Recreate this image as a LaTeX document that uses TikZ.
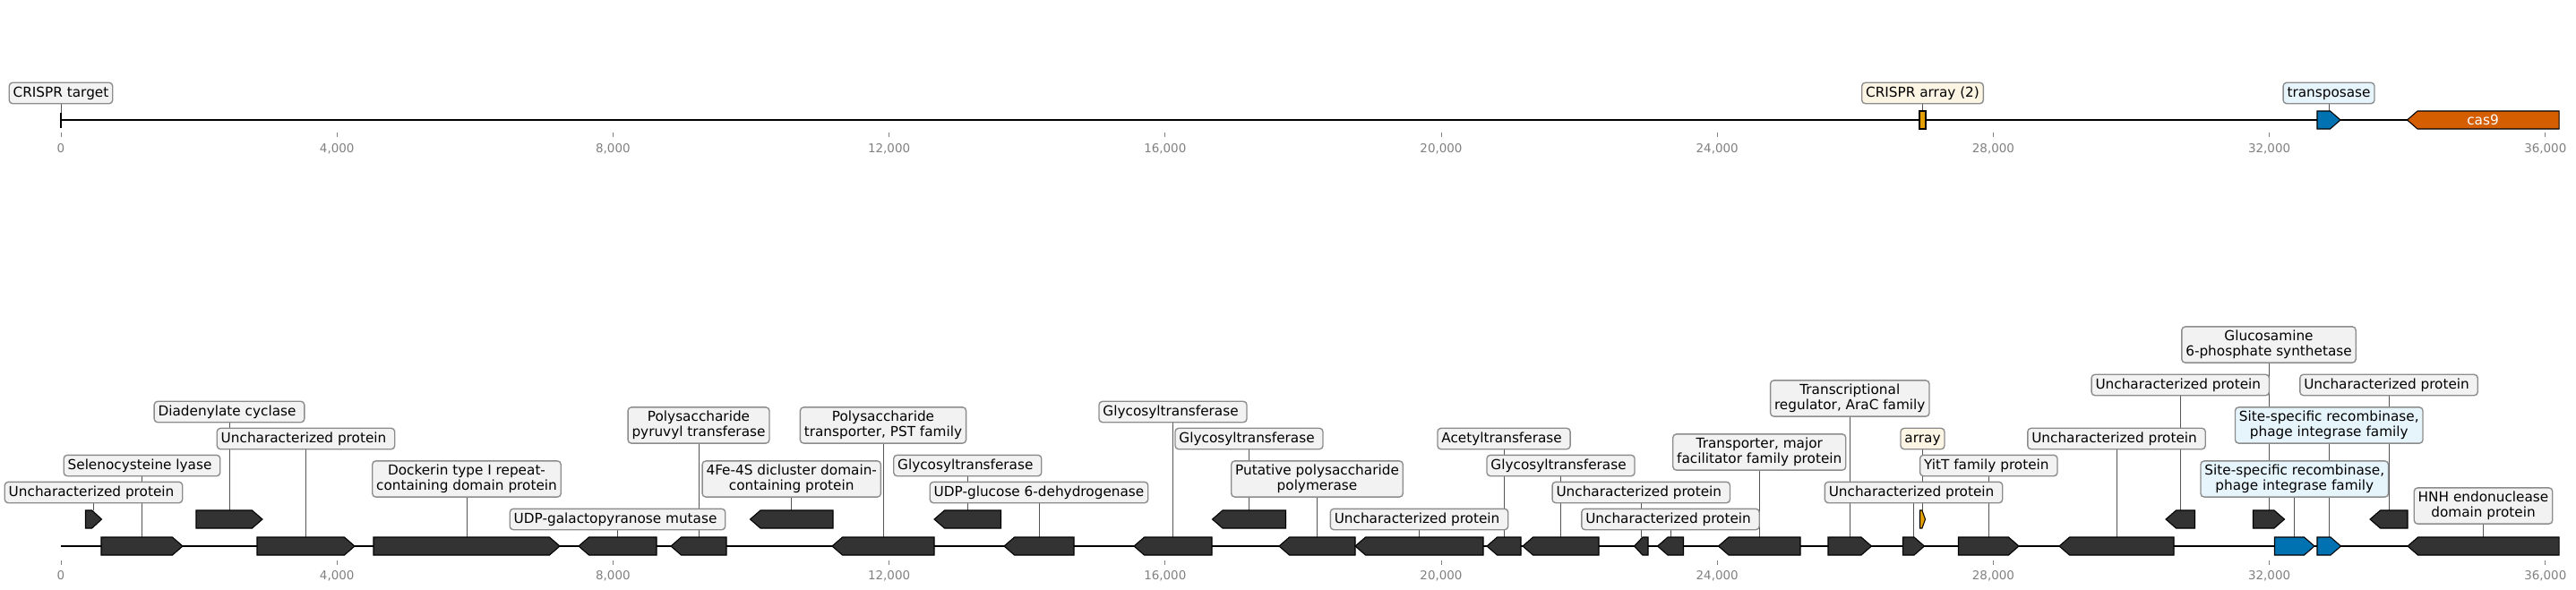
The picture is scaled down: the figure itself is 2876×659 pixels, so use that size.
\documentclass[tikz,border=0pt]{standalone}
\usepackage{fontspec}
\setmainfont{DejaVu Sans}
\definecolor{genegray}{HTML}{333333}
\definecolor{tagfill}{HTML}{F2F2F2}
\definecolor{tagline}{HTML}{8C8C8C}
\definecolor{tagblue}{HTML}{E6F4FC}
\definecolor{tagcream}{HTML}{FDF5E4}
\definecolor{leadgray}{HTML}{555555}
\definecolor{tickgray}{HTML}{808080}
\definecolor{cbblue}{HTML}{0072B2}
\definecolor{cborange}{HTML}{E69F00}
\definecolor{cbred}{HTML}{D55E00}
\pgfdeclarelayer{back}
\pgfsetlayers{back,main}

% #1 start, #2 end, #3 row, #4 fill, #5 name of top point
\newcommand{\fgene}[5]{%
  \pgfmathsetmacro{\ghead}{min(11.5,0.6*(#2-#1))}%
  \draw[gene,fill=#4] ({#1},{#3-10}) -- ({#2-\ghead},{#3-10}) -- ({#2},{#3})
    -- ({#2-\ghead},{#3+10}) -- ({#1},{#3+10}) -- cycle;%
  \coordinate (#5) at ({(#1+#2)/2},{#3-10});}
\newcommand{\rgene}[5]{%
  \pgfmathsetmacro{\ghead}{min(11.5,0.6*(#2-#1))}%
  \draw[gene,fill=#4] ({#2},{#3-10}) -- ({#1+\ghead},{#3-10}) -- ({#1},{#3})
    -- ({#1+\ghead},{#3+10}) -- ({#2},{#3+10}) -- cycle;%
  \coordinate (#5) at ({(#1+#2)/2},{#3-10});}

\tikzset{
  gene/.style={draw=black, line width=0.7pt, fill=genegray},
  tagbox/.style={draw=tagline, fill=tagfill, rounded corners=2.5pt, line width=0.9pt,
    inner xsep=2.9pt, inner ysep=2.65pt, font=\fontsize{10}{11.3}\selectfont},
  tag/.style={tagbox, text height=8.1pt, text depth=1.9pt},
  tagsp/.style={tag, execute at end node={\kern.32em}},
  tagtwo/.style={tagbox, align=center},
  bluetag/.style={fill=tagblue},
  creamtag/.style={fill=tagcream},
  leader/.style={draw=leadgray, line width=0.55pt},
  backbone/.style={line width=1.6pt},
  tickmark/.style={draw=tickgray, line width=0.6pt},
  ticklab/.style={text=tickgray, font=\fontsize{8.8}{10}\selectfont, anchor=base, inner sep=0pt}
}

\begin{document}
\begin{tikzpicture}[x=0.023cm,y=-0.023cm]
\useasboundingbox (0,0) rectangle (2876,659);

% top track
\draw[line width=1.4pt] (68,126) -- (68,143);
\coordinate (tgt) at (68,126);
\draw[gene,fill=cborange] (2143,124) rectangle (2150,144);
\coordinate (arr) at (2146.5,124);
\fgene{2587}{2613}{134}{cbblue}{tnp}
\rgene{2687.5}{2857}{134}{cbred}{cas}
\node[text=white, font=\fontsize{10}{11.3}\selectfont] (cas9) at (2772,134) {cas9};

\node[tag] (ltgt) at (tgt |- 0,104) {CRISPR target};
\node[tag,creamtag] (larr) at (arr |- 0,104) {CRISPR array (2)};
\node[tag,bluetag] (ltnp) at (tnp |- 0,104) {transposase};

\foreach \k/\t in {0/0,1/{4,000},2/{8,000},3/{12,000},4/{16,000},5/{20,000},6/{24,000},7/{28,000},8/{32,000},9/{36,000}}{
  \draw[tickmark] ({68+308.2*\k},148) -- ({68+308.2*\k},153);
  \node[ticklab] (ta\k) at ({68+308.2*\k},170) {\t};
  \draw[tickmark] ({68+308.2*\k},626) -- ({68+308.2*\k},631);
  \node[ticklab] (tb\k) at ({68+308.2*\k},647) {\t};
}

% bottom track
\fgene{95.5}{113.5}{580}{genegray}{g1}
\fgene{113}{204}{610}{genegray}{g2}
\fgene{219}{293}{580}{genegray}{g3}
\fgene{287}{396}{610}{genegray}{g4}
\fgene{417}{625}{610}{genegray}{g5}
\rgene{646}{733}{610}{genegray}{g6}
\rgene{749}{811}{610}{genegray}{g7}
\rgene{837.5}{930}{580}{genegray}{g8}
\rgene{929}{1043}{610}{genegray}{g9}
\rgene{1043}{1117.5}{580}{genegray}{g10}
\rgene{1121}{1199}{610}{genegray}{g11}
\rgene{1266}{1353}{610}{genegray}{g12}
\rgene{1353.5}{1435.5}{580}{genegray}{g13}
\rgene{1428}{1513}{610}{genegray}{g14}
\rgene{1513}{1656}{610}{genegray}{g15}
\rgene{1660}{1698}{610}{genegray}{g16}
\rgene{1700}{1785}{610}{genegray}{g17}
\rgene{1824.5}{1840}{610}{genegray}{g18}
\rgene{1850.5}{1879.5}{610}{genegray}{g19}
\rgene{1918.5}{2010}{610}{genegray}{g20}
\fgene{2041}{2089.5}{610}{genegray}{g21}
\fgene{2124.5}{2148.5}{610}{genegray}{g22}
\fgene{2143.5}{2149.5}{580}{cborange}{g23}
\fgene{2186.5}{2254}{610}{genegray}{g24}
\rgene{2299}{2427}{610}{genegray}{g25}
\rgene{2418}{2450.5}{580}{genegray}{g26}
\fgene{2515.5}{2550.5}{580}{genegray}{g27}
\fgene{2539.5}{2584}{610}{cbblue}{g28}
\fgene{2587}{2613.5}{610}{cbblue}{g29}
\rgene{2646}{2688}{580}{genegray}{g30}
\rgene{2688}{2857}{610}{genegray}{g31}

\node[tagsp] (l1) at (g1 |- 0,550) {Uncharacterized protein};
\node[tagsp] (l2) at (g2 |- 0,520) {Selenocysteine lyase};
\node[tagsp] (l3) at (g3 |- 0,460) {Diadenylate cyclase};
\node[tagsp] (l4) at (g4 |- 0,490) {Uncharacterized protein};
\node[tagtwo] (l5) at (g5 |- 0,535) {Dockerin type I repeat-\\containing domain protein};
\node[tagsp] (l6) at (g6 |- 0,580) {UDP-galactopyranose mutase};
\node[tagtwo] (l7) at (g7 |- 0,475) {Polysaccharide\\pyruvyl transferase};
\node[tagtwo] (l8) at (g8 |- 0,535) {4Fe-4S dicluster domain-\\containing protein};
\node[tagtwo] (l9) at (g9 |- 0,475) {Polysaccharide\\transporter, PST family};
\node[tagsp] (l10) at (g10 |- 0,520) {Glycosyltransferase};
\node[tag] (l11) at (g11 |- 0,550) {UDP-glucose 6-dehydrogenase};
\node[tagsp] (l12) at (g12 |- 0,460) {Glycosyltransferase};
\node[tagsp] (l13) at (g13 |- 0,490) {Glycosyltransferase};
\node[tagtwo] (l14) at (g14 |- 0,535) {Putative polysaccharide\\polymerase};
\node[tagsp] (l15) at (g15 |- 0,580) {Uncharacterized protein};
\node[tagsp] (l16) at (g16 |- 0,490) {Acetyltransferase};
\node[tagsp] (l17) at (g17 |- 0,520) {Glycosyltransferase};
\node[tagsp] (l18) at (g18 |- 0,550) {Uncharacterized protein};
\node[tagsp] (l19) at (g19 |- 0,580) {Uncharacterized protein};
\node[tagtwo] (l20) at (g20 |- 0,505) {Transporter, major\\facilitator family protein};
\node[tagtwo] (l21) at (g21 |- 0,445) {Transcriptional\\regulator, AraC family};
\node[tagsp] (l22) at (g22 |- 0,550) {Uncharacterized protein};
\node[tag,creamtag] (l23) at (g23 |- 0,490) {array};
\node[tagsp] (l24) at (g24 |- 0,520) {YitT family protein};
\node[tagsp] (l25) at (g25 |- 0,490) {Uncharacterized protein};
\node[tagsp] (l26) at (g26 |- 0,430) {Uncharacterized protein};
\node[tagtwo] (l27) at (g27 |- 0,385) {Glucosamine\\6-phosphate synthetase};
\node[tagtwo,bluetag] (l28) at (g28 |- 0,535) {Site-specific recombinase,\\phage integrase family};
\node[tagtwo,bluetag] (l29) at (g29 |- 0,475) {Site-specific recombinase,\\phage integrase family};
\node[tagsp] (l30) at (g30 |- 0,430) {Uncharacterized protein};
\node[tagtwo] (l31) at (g31 |- 0,565) {HNH endonuclease\\domain protein};

\begin{pgfonlayer}{back}
\draw[backbone] (68,134) -- (2857,134);
\draw[backbone] (68,610) -- (2857,610);
\draw[leader] (ltgt.south) -- (tgt);
\draw[leader] (larr.south) -- (arr);
\draw[leader] (ltnp.south) -- (tnp);
\foreach \i in {1,...,31}
  \draw[leader] (l\i.south) -- (g\i);
\end{pgfonlayer}
\end{tikzpicture}
\end{document}
